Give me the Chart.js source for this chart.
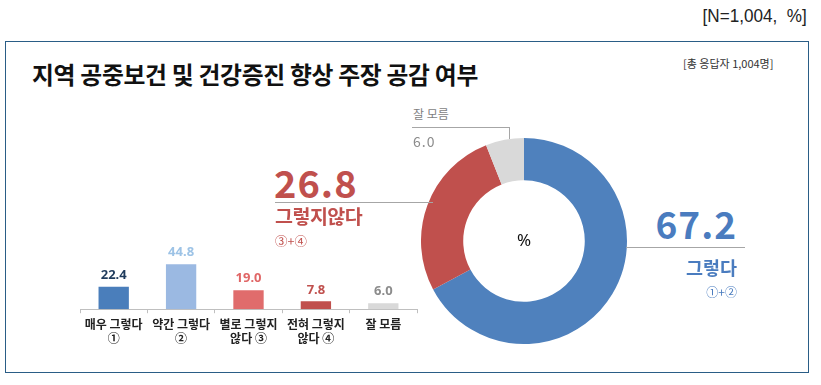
<!DOCTYPE html>
<html>
<head>
<meta charset="utf-8">
<script src="https://cdn.jsdelivr.net/npm/chart.js@4/dist/chart.umd.min.js"></script>
<style>
  body { margin: 0; background: #fff; font-family: "Noto Sans CJK KR", "Noto Sans", sans-serif; }
  #page { position: relative; width: 821px; height: 385px; overflow: hidden; }
  .abs { position: absolute; white-space: nowrap; }
  #box { position: absolute; left: 5px; top: 41px; width: 802px; height: 330px; border: 1.5px solid #2a5d86; }
  .line { position: absolute; background: #a6a6a6; }
</style>
</head>
<body>
<div id="page">
  <div class="abs" style="right:14px; top:5px; font-family:'Liberation Sans Narrow','Liberation Sans',sans-serif; font-size:19px; color:#222; transform:scaleX(0.9); transform-origin:right center;">[N=1,004,&nbsp; %]</div>
  <div id="box"></div>
  <div class="abs" style="left:32px; top:56px; font-size:23.8px; font-weight:700; color:#111; letter-spacing:-0.3px;">지역 공중보건 및 건강증진 향상 주장 공감 여부</div>
  <div class="abs" style="left:683px; top:55px; font-size:11px; color:#333;">[총 응답자 1,004명]</div>

  <canvas id="bars" class="abs" width="345" height="121" style="left:76px; top:229px;"></canvas>
  <canvas id="donut" class="abs" width="206" height="206" style="left:421px; top:138px;"></canvas>

  <!-- callouts -->
  <div class="abs" style="left:413px; top:105px; font-size:12px; color:#7f7f7f;">잘 모름</div>
  <div class="line" style="left:412px; top:127px; width:98px; height:1px;"></div>
  <div class="line" style="left:509px; top:127px; width:1px; height:12px;"></div>
  <div class="abs" style="left:413px; top:131px; font-size:14px; color:#8c8c8c; letter-spacing:1px;">6.0</div>

  <div class="abs" style="left:274px; top:154px; font-size:38px; font-weight:700; color:#c0504d; letter-spacing:1px;">26.8</div>
  <div class="line" style="left:275px; top:202px; width:158px; height:1px;"></div>
  <div class="abs" style="left:275px; top:201px; font-size:19.5px; font-weight:700; color:#c0504d; letter-spacing:-0.5px;">그렇지않다</div>
  <div class="abs" style="left:275px; top:231px; font-size:12.5px; color:#c0504d;">③+④</div>

  <div class="abs" style="right:84px; top:196px; font-size:37px; font-weight:700; color:#4a7cbf; letter-spacing:1px;">67.2</div>
  <div class="line" style="left:626px; top:247px; width:119px; height:1px;"></div>
  <div class="abs" style="right:84px; top:254px; font-size:18.5px; font-weight:700; color:#4a7cbf;">그렇다</div>
  <div class="abs" style="right:84px; top:283px; font-size:12px; color:#4a7cbf;">①+②</div>
</div>
<script>
const categories = [['매우 그렇다', '①'], ['약간 그렇다', '②'], ['별로 그렇지', '않다 ③'], ['전혀 그렇지', '않다 ④'], ['잘 모름']];
const values = [22.4, 44.8, 19.0, 7.8, 6.0];
const barColors = ['#4a7ebb', '#9bb9e2', '#e06c6c', '#c0504d', '#d9d9d9'];
const valueColors = ['#1f3b5c', '#9dc3e6', '#e06666', '#c0504d', '#8c8c8c'];

const summaryLabels = ['그렇다', '그렇지않다', '잘 모름'];
const summaryValues = [67.2, 26.8, 6.0];
const summaryColors = ['#4f81bd', '#c0504d', '#d9d9d9'];

// value labels above the bars
const barValues = {
    id: 'barValues',
    afterDatasetsDraw(chart) {
        const ctx = chart.ctx;
        const meta = chart.getDatasetMeta(0);
        ctx.save();
        ctx.font = 'bold 13px "Noto Sans", "Noto Sans CJK KR", sans-serif';
        ctx.textAlign = 'center';
        ctx.textBaseline = 'bottom';
        meta.data.forEach((bar, i) => {
            ctx.fillStyle = valueColors[i];
            ctx.fillText(values[i].toFixed(1), bar.x, bar.y - 5);
        });
        ctx.restore();
    }
};

new Chart(document.getElementById('bars'), {
    type: 'bar',
    data: {
        labels: categories,
        datasets: [{
            data: values,
            backgroundColor: barColors,
            categoryPercentage: 1,
            barPercentage: 0.45,
        }]
    },
    options: {
        responsive: false,
        animation: false,
        layout: { padding: { top: 20, left: 4, right: 4 } },
        plugins: { legend: { display: false }, tooltip: { enabled: false } },
        scales: {
            y: { display: false, min: 0, max: 60 },
            x: {
                border: { color: '#bfbfbf' },
                grid: { offset: true, drawOnChartArea: false, tickLength: 4, color: '#bfbfbf' },
                ticks: { color: '#222', padding: 4, font: { size: 12, weight: 'bold', family: '"Noto Sans CJK KR", sans-serif', lineHeight: 1.2 } }
            }
        }
    },
    plugins: [barValues]
});

// centre label of the doughnut
const centerText = {
    id: 'centerText',
    afterDraw(chart) {
        const meta = chart.getDatasetMeta(0);
        const arc = meta.data[0];
        const ctx = chart.ctx;
        ctx.save();
        ctx.font = '17px "Noto Sans", sans-serif';
        ctx.fillStyle = '#111';
        ctx.textAlign = 'center';
        ctx.textBaseline = 'middle';
        ctx.fillText('%', arc.x, arc.y);
        ctx.restore();
    }
};

new Chart(document.getElementById('donut'), {
    type: 'doughnut',
    data: {
        labels: summaryLabels,
        datasets: [{
            data: summaryValues,
            backgroundColor: summaryColors,
            borderWidth: 0,
        }]
    },
    options: {
        responsive: false,
        animation: false,
        cutout: '59%',
        layout: { padding: 0 },
        plugins: { legend: { display: false }, tooltip: { enabled: false } }
    },
    plugins: [centerText]
});
</script>
</body>
</html>
